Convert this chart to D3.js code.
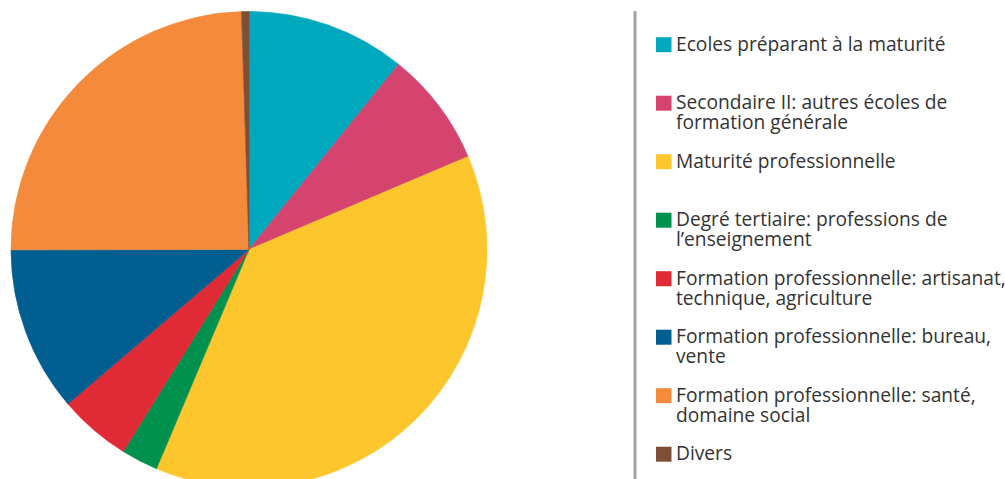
<!DOCTYPE html>
<html><head><meta charset="utf-8">
<script src="https://cdn.jsdelivr.net/npm/d3@7"></script>
<style>html,body{margin:0;padding:0;background:#fff;overflow:hidden}</style>
</head><body>
<svg id="chart" width="1005" height="479"></svg>
<script>
const categories = [
  "Ecoles préparant à la maturité",
  "Secondaire II: autres écoles de formation générale",
  "Maturité professionnelle",
  "Degré tertiaire: professions de l’enseignement",
  "Formation professionnelle: artisanat, technique, agriculture",
  "Formation professionnelle: bureau, vente",
  "Formation professionnelle: santé, domaine social",
  "Divers"
];
const legendLines = [
  ["Ecoles préparant à la maturité"],
  ["Secondaire II: autres écoles de", "formation générale"],
  ["Maturité professionnelle"],
  ["Degré tertiaire: professions de", "l’enseignement"],
  ["Formation professionnelle: artisanat,", "technique, agriculture"],
  ["Formation professionnelle: bureau,", "vente"],
  ["Formation professionnelle: santé,", "domaine social"],
  ["Divers"]
];
const values = [10.8, 7.8, 37.7, 2.5, 4.9, 11.2, 24.5, 0.5];
const colors = ["#00a8bd", "#d5446f", "#fdc62d", "#00914f", "#e02b36", "#005f90", "#f48a3c", "#7d4f36"];

const svg = d3.select("#chart");
const cx = 249, cy = 249.5, r = 238;

const pie = d3.pie().sort(null).value(d => d)(values);
const arc = d3.arc().innerRadius(0).outerRadius(r);
const color = d3.scaleOrdinal().domain(categories).range(colors);

svg.append("g").attr("transform", `translate(${cx},${cy})`)
  .selectAll("path").data(pie).join("path")
  .attr("d", arc)
  .attr("fill", (d, i) => color(categories[i]))
  .attr("stroke", (d, i) => color(categories[i]))
  .attr("stroke-width", 0.6);

// legend separator line
svg.append("line").attr("x1", 635).attr("x2", 635).attr("y1", 11).attr("y2", 479)
  .attr("stroke", "#a3a3a7").attr("stroke-width", 3);

const legendY = d3.scaleLinear().domain([0, categories.length - 1]).range([50.7, 460.2]);
const lg = svg.append("g");
categories.forEach((c, i) => {
  const y = legendY(i);
  lg.append("rect").attr("x", 656).attr("y", y - 13.5).attr("width", 15.5).attr("height", 15)
    .attr("fill", color(c));
  legendLines[i].forEach((ln, j) => {
    lg.append("text").attr("x", 676).attr("y", y + j * 20)
      .attr("font-family", "'Open Sans', sans-serif").attr("font-size", 19.2)
      .attr("fill", "#333").text(ln);
  });
});
</script>
</body></html>
